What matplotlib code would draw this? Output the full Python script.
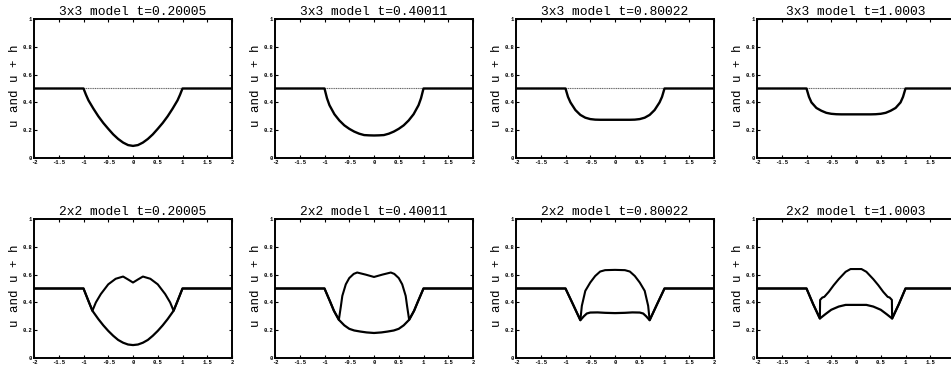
import numpy as np
import matplotlib
matplotlib.use('Agg')
import matplotlib.pyplot as plt
from matplotlib.ticker import FuncFormatter

plt.rcParams['font.family'] = ['Liberation Mono', 'DejaVu Sans Mono']

# ---- 3x3 model (top row): u+h stays at 0.5 ----
titles_top = ['3x3 model t=0.20005', '3x3 model t=0.40011',
              '3x3 model t=0.80022', '3x3 model t=1.0003']

x_top = [-2, -1, -0.95, -0.9, -0.8, -0.7, -0.6, -0.5, -0.4, -0.3, -0.2, -0.1, 0,
         0.1, 0.2, 0.3, 0.4, 0.5, 0.6, 0.7, 0.8, 0.9, 0.95, 1, 2]

u_3x3_t02 = [0.5, 0.5, 0.455, 0.415, 0.355, 0.30, 0.252, 0.21, 0.17, 0.137, 0.111, 0.093, 0.087,
             0.093, 0.111, 0.137, 0.17, 0.21, 0.252, 0.30, 0.355, 0.415, 0.455, 0.5, 0.5]
u_3x3_t04 = [0.5, 0.5, 0.43, 0.38, 0.315, 0.27, 0.235, 0.21, 0.19, 0.175, 0.165, 0.163, 0.162,
             0.163, 0.165, 0.175, 0.19, 0.21, 0.235, 0.27, 0.315, 0.38, 0.43, 0.5, 0.5]
u_3x3_t08 = [0.5, 0.5, 0.44, 0.40, 0.345, 0.31, 0.29, 0.28, 0.276, 0.275, 0.275, 0.275, 0.275,
             0.275, 0.275, 0.275, 0.276, 0.28, 0.29, 0.31, 0.345, 0.40, 0.44, 0.5, 0.5]
u_3x3_t10 = [0.5, 0.5, 0.44, 0.40, 0.36, 0.34, 0.325, 0.318, 0.315, 0.314, 0.314, 0.314, 0.314,
             0.314, 0.314, 0.314, 0.315, 0.318, 0.325, 0.34, 0.36, 0.40, 0.44, 0.5, 0.5]
uh_3x3 = [0.5] * len(x_top)

# ---- 2x2 model (bottom row) ----
titles_bot = ['2x2 model t=0.20005', '2x2 model t=0.40011',
              '2x2 model t=0.80022', '2x2 model t=1.0003']

x_u_t02 = [-2, -1, -0.9, -0.82, -0.7, -0.6, -0.5, -0.4, -0.3, -0.2, -0.1, 0,
           0.1, 0.2, 0.3, 0.4, 0.5, 0.6, 0.7, 0.82, 0.9, 1, 2]
u_2x2_t02 = [0.5, 0.5, 0.41, 0.34, 0.28, 0.235, 0.195, 0.16, 0.13, 0.11, 0.097, 0.093,
             0.097, 0.11, 0.13, 0.16, 0.195, 0.235, 0.28, 0.34, 0.41, 0.5, 0.5]
x_h_t02 = [-2, -1, -0.9, -0.82, -0.75, -0.65, -0.5, -0.35, -0.2, -0.1, 0,
           0.1, 0.2, 0.35, 0.5, 0.65, 0.75, 0.82, 0.9, 1, 2]
uh_2x2_t02 = [0.5, 0.5, 0.41, 0.34, 0.40, 0.46, 0.53, 0.57, 0.586, 0.565, 0.543,
              0.565, 0.586, 0.57, 0.53, 0.46, 0.40, 0.34, 0.41, 0.5, 0.5]

x_u_t04 = [-2, -1, -0.94, -0.88, -0.81, -0.71, -0.6, -0.5, -0.4, -0.27, -0.15, 0,
           0.15, 0.27, 0.4, 0.5, 0.6, 0.71, 0.81, 0.88, 0.94, 1, 2]
u_2x2_t04 = [0.5, 0.5, 0.45, 0.40, 0.34, 0.275, 0.235, 0.21, 0.198, 0.19, 0.184, 0.18,
             0.184, 0.19, 0.198, 0.21, 0.235, 0.275, 0.34, 0.40, 0.45, 0.5, 0.5]
x_h_t04 = [-2, -1, -0.94, -0.88, -0.81, -0.71, -0.67, -0.64, -0.57, -0.5, -0.41, -0.34, -0.17, 0,
           0.17, 0.34, 0.41, 0.5, 0.57, 0.64, 0.67, 0.71, 0.81, 0.88, 0.94, 1, 2]
uh_2x2_t04 = [0.5, 0.5, 0.45, 0.40, 0.34, 0.275, 0.37, 0.447, 0.53, 0.575, 0.605, 0.615, 0.60, 0.583,
              0.60, 0.615, 0.605, 0.575, 0.53, 0.447, 0.37, 0.275, 0.34, 0.40, 0.45, 0.5, 0.5]

x_u_t08 = [-2, -1, -0.85, -0.7, -0.63, -0.57, -0.5, -0.35, -0.2, 0,
           0.2, 0.35, 0.5, 0.57, 0.63, 0.7, 0.85, 1, 2]
u_2x2_t08 = [0.5, 0.5, 0.387, 0.272, 0.30, 0.32, 0.327, 0.328, 0.325, 0.323,
             0.325, 0.328, 0.327, 0.32, 0.30, 0.272, 0.387, 0.5, 0.5]
x_h_t08 = [-2, -1, -0.85, -0.7, -0.67, -0.6, -0.5, -0.4, -0.3, -0.2, 0,
           0.2, 0.3, 0.4, 0.5, 0.6, 0.67, 0.7, 0.85, 1, 2]
uh_2x2_t08 = [0.5, 0.5, 0.387, 0.272, 0.375, 0.483, 0.543, 0.59, 0.622, 0.632, 0.634,
              0.632, 0.622, 0.59, 0.543, 0.483, 0.375, 0.272, 0.387, 0.5, 0.5]

x_u_t10 = [-2, -1, -0.865, -0.73, -0.62, -0.5, -0.35, -0.21, 0,
           0.21, 0.35, 0.5, 0.62, 0.73, 0.865, 1, 2]
u_2x2_t10 = [0.5, 0.5, 0.387, 0.284, 0.315, 0.347, 0.37, 0.382, 0.382,
             0.382, 0.37, 0.347, 0.315, 0.284, 0.387, 0.5, 0.5]
x_h_t10 = [-2, -1, -0.865, -0.73, -0.725, -0.68, -0.64, -0.55, -0.45, -0.35, -0.21, -0.11, 0,
           0.11, 0.21, 0.35, 0.45, 0.55, 0.64, 0.68, 0.725, 0.73, 0.865, 1, 2]
uh_2x2_t10 = [0.5, 0.5, 0.387, 0.284, 0.418, 0.435, 0.44, 0.476, 0.524, 0.567, 0.62, 0.64, 0.64,
              0.64, 0.62, 0.567, 0.524, 0.476, 0.44, 0.435, 0.418, 0.284, 0.387, 0.5, 0.5]

top_u = [u_3x3_t02, u_3x3_t04, u_3x3_t08, u_3x3_t10]
bot = [(x_u_t02, u_2x2_t02, x_h_t02, uh_2x2_t02),
       (x_u_t04, u_2x2_t04, x_h_t04, uh_2x2_t04),
       (x_u_t08, u_2x2_t08, x_h_t08, uh_2x2_t08),
       (x_u_t10, u_2x2_t10, x_h_t10, uh_2x2_t10)]

fig = plt.figure(figsize=(9.51, 3.67), dpi=100)
W, H = 951.0, 367.0
lefts = [34, 275, 516, 757]
fmt = FuncFormatter(lambda v, p: '%g' % v)


def style(ax, title):
    ax.set_xlim(-2, 2)
    ax.set_ylim(0, 1)
    ax.set_xticks(np.arange(-2, 2.01, 0.5))
    ax.set_yticks(np.arange(0, 1.01, 0.2))
    ax.xaxis.set_major_formatter(fmt)
    ax.yaxis.set_major_formatter(fmt)
    ax.tick_params(direction='in', length=2.5, width=0.8, top=True, right=True,
                   labelsize=4, pad=1.5)
    for lab in ax.get_xticklabels() + ax.get_yticklabels():
        lab.set_fontweight('bold')
    for s in ax.spines.values():
        s.set_linewidth(1.4)
    ax.set_title(title, fontsize=9.4, pad=3)
    ax.set_ylabel('u and u + h', fontsize=9)
    ax.yaxis.set_label_coords(-0.065, 0.52)


for i in range(4):
    ax = fig.add_axes([lefts[i] / W, 1 - 158 / H, 198 / W, 139 / H])
    ax.plot(x_top, uh_3x3, color='0.4', lw=0.8, ls=(0, (1, 0.6)))
    ax.plot(x_top, top_u[i], color='k', lw=1.7)
    style(ax, titles_top[i])

for i in range(4):
    ax = fig.add_axes([lefts[i] / W, 1 - 358 / H, 198 / W, 139 / H])
    xu, u, xh, uh = bot[i]
    ax.plot(xh, uh, color='k', lw=1.5)
    ax.plot(xu, u, color='k', lw=1.6)
    style(ax, titles_bot[i])

fig.savefig('out.png', dpi=100)
